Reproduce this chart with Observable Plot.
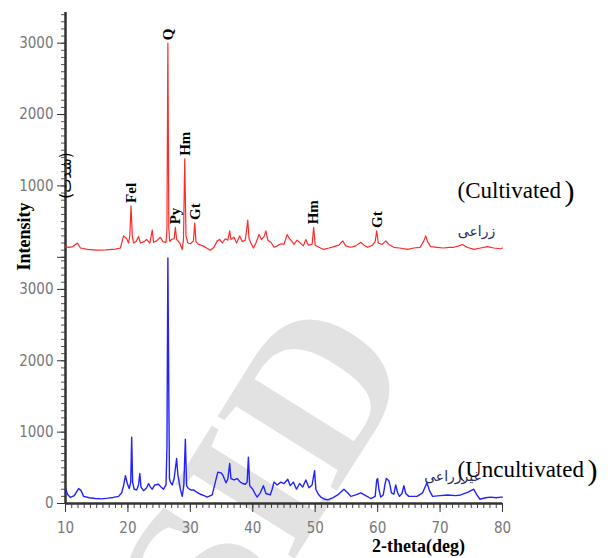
<!DOCTYPE html>
<html>
<head>
<meta charset="utf-8">
<script src="https://cdn.jsdelivr.net/npm/d3@7"></script>
<script src="https://cdn.jsdelivr.net/npm/@observablehq/plot@0.6"></script>
<style>
  html, body { margin: 0; padding: 0; background: #fff; }
  #chart svg { display: block; }
</style>
</head>
<body>
<div id="chart"></div>
<script>
// ---- data (2-theta in degrees, intensity in counts) ----
const cultivated = [
  [10.0,150],[10.5,140],[11.2,150],[11.9,200],[12.4,130],[13.5,110],[15,100],[16.5,105],[18,115],[18.8,130],
  [19.3,300],[19.8,260],[20.1,200],[20.3,300],[20.5,720],[20.7,300],[20.9,200],[21.3,220],[21.7,290],[22.0,200],
  [22.6,220],[23.0,250],[23.5,200],[23.9,380],[24.1,210],[24.6,230],[25.2,280],[25.6,220],[26.1,210],[26.25,400],
  [26.4,3000],[26.55,400],[26.7,220],[27.0,250],[27.4,260],[27.6,420],[27.8,250],[28.3,200],[28.7,110],[28.9,250],
  [29.1,1380],[29.3,300],[29.6,200],[30.0,190],[30.5,230],[30.7,480],[30.9,220],[31.3,180],[32.0,160],[32.6,130],
  [33.2,100],[33.8,140],[34.3,230],[34.7,250],[35.1,200],[35.6,260],[36.0,240],[36.3,370],[36.5,250],[37.0,280],
  [37.4,200],[37.9,300],[38.3,220],[38.8,240],[39.2,520],[39.4,260],[39.8,180],[40.1,130],[40.5,200],[41.0,320],
  [41.4,250],[41.8,290],[42.1,370],[42.4,240],[42.9,210],[43.4,140],[43.9,160],[44.5,190],[45.0,180],[45.5,320],
  [45.8,270],[46.2,230],[46.6,180],[47.1,240],[47.6,200],[48.1,160],[48.5,250],[48.9,170],[49.5,180],[49.75,420],
  [50.0,170],[50.6,140],[51.3,110],[52.2,130],[53.0,150],[53.8,170],[54.4,230],[54.9,160],[55.7,140],[56.5,160],
  [57.3,210],[57.8,170],[58.4,140],[59.2,170],[59.6,220],[59.85,370],[60.1,200],[60.7,180],[61.3,230],[61.8,180],
  [62.6,140],[63.5,130],[64.8,110],[65.8,130],[66.8,140],[67.4,230],[67.7,300],[68.0,220],[68.5,150],[69.5,140],
  [70.5,130],[71.5,140],[72.2,140],[73.0,160],[73.6,180],[74.3,140],[75.4,110],[76.5,130],[77.6,150],[78.6,130],
  [79.7,120],[80.0,130]
];

const uncultivated = [
  [10.0,220],[10.3,130],[10.8,85],[11.4,110],[12.1,210],[12.5,180],[12.9,100],[13.8,80],[14.8,70],[15.8,65],
  [16.8,75],[17.6,85],[18.5,100],[19.0,150],[19.3,250],[19.6,390],[19.9,280],[20.2,210],[20.45,300],[20.6,930],
  [20.75,300],[21.0,200],[21.4,190],[21.7,260],[21.9,420],[22.1,230],[22.5,180],[23.0,220],[23.3,280],[23.6,230],
  [23.9,200],[24.3,260],[24.9,270],[25.3,230],[25.7,200],[26.1,260],[26.25,800],[26.4,3440],[26.55,1500],[26.65,350],
  [26.8,300],[27.1,260],[27.4,350],[27.8,630],[28.0,400],[28.4,200],[28.7,100],[28.95,250],[29.2,900],[29.4,250],
  [29.7,210],[30.1,190],[30.5,190],[31.0,160],[31.6,130],[32.2,110],[32.7,90],[33.5,120],[34.0,300],[34.4,440],
  [34.9,430],[35.2,400],[35.7,290],[36.0,340],[36.3,560],[36.5,350],[37.0,330],[37.5,350],[38.0,300],[38.4,280],
  [38.8,270],[39.1,300],[39.3,650],[39.5,250],[40.0,200],[40.4,130],[40.7,90],[41.2,150],[41.7,250],[42.1,140],
  [42.8,120],[43.1,200],[43.4,300],[43.9,260],[44.5,300],[45.0,280],[45.6,340],[46.0,250],[46.5,300],[47.0,200],
  [47.5,280],[48.0,230],[48.5,330],[49.0,220],[49.5,260],[49.9,460],[50.1,200],[50.5,130],[50.9,90],[51.5,60],
  [52.0,50],[52.8,80],[53.6,120],[54.6,200],[55.2,150],[55.7,100],[56.5,120],[57.3,150],[58.1,110],[58.9,70],
  [59.6,100],[59.85,330],[60.0,350],[60.2,200],[60.5,90],[60.9,120],[61.2,280],[61.4,350],[61.8,320],[62.0,250],
  [62.2,150],[62.6,130],[62.9,260],[63.2,150],[63.5,100],[63.9,140],[64.2,250],[64.5,140],[65.0,100],[66.3,100],
  [67.2,150],[67.9,290],[68.3,180],[68.8,100],[70.0,110],[71.2,120],[72.5,110],[73.3,120],[74.5,160],[75.4,200],
  [75.9,120],[76.4,60],[77.3,80],[78.1,90],[79.0,80],[79.7,90],[80.0,90]
];

// mineral peak labels on the cultivated pattern
const peakNames = ["Fel", "Q", "Py", "Hm", "Gt", "Hm", "Gt"];
const peakTheta = [20.5, 26.4, 27.6, 29.1, 30.7, 49.75, 59.85];
const peakIntensity = [720, 3000, 420, 1380, 480, 420, 370];

const xTicks = [10, 20, 30, 40, 50, 60, 70, 80];
const yTicks = [0, 1000, 2000, 3000];

// ---- layout ----
const OFF = 3450;          // vertical offset of the upper (cultivated) pattern
const YMAX = 6880;
const serif = "'Liberation Serif', 'Times New Roman', serif";
const narrow = "'Liberation Sans Narrow', 'DejaVu Sans Condensed', 'Liberation Sans', sans-serif";

const peaks = peakNames.map((n, i) => ({name: n, theta: peakTheta[i], v: peakIntensity[i]}));

const majorY = [...yTicks, ...yTicks.map(t => t + OFF)];
const minorY = [...d3.range(0, OFF, 100), ...d3.range(OFF, YMAX, 100)];
const minorX = d3.range(10, 81, 1);

const chart = Plot.plot({
  width: 616,
  height: 558,
  marginLeft: 65,
  marginRight: 114,
  marginTop: 12,
  marginBottom: 55,
  style: {background: "#fff", overflow: "visible"},
  x: {domain: [10, 80], axis: null, label: null},
  y: {domain: [0, YMAX], axis: null, label: null},
  marks: [
    // watermark
    Plot.text(["SID"], {frameAnchor: "middle", dx: -20, dy: 220, rotate: -58,
      fontSize: 215, fontWeight: "bold", fontFamily: serif, fill: "#e2e2e2"}),

    // minor ticks
    Plot.axisX(minorX, {anchor: "bottom", tickSize: 5, text: null, label: null, stroke: "#444", strokeWidth: 1}),
    Plot.axisY(minorY, {anchor: "left", tickSize: 4, text: null, label: null, stroke: "#555", strokeWidth: 1}),

    // major ticks with labels
    Plot.axisX(xTicks, {anchor: "bottom", tickSize: 9, tickPadding: 10, stroke: "#333", label: null,
      fill: "#777", fontSize: 15, fontFamily: narrow}),
    Plot.axisY(majorY, {anchor: "left", tickSize: 8, tickPadding: 4, stroke: "#333", label: null,
      fill: "#777", fontSize: 15, fontFamily: narrow,
      tickFormat: d => d === OFF ? "" : String(d >= OFF ? d - OFF : d)}),

    // axis lines
    Plot.ruleX([10], {stroke: "#333", strokeWidth: 2.5}),
    Plot.ruleY([0], {stroke: "#333", strokeWidth: 2.5}),

    // patterns
    Plot.line(uncultivated, {x: d => d[0], y: d => d[1], stroke: "#2222ff", strokeWidth: 1.4}),
    Plot.line(cultivated, {x: d => d[0], y: d => d[1] + OFF, stroke: "#ff2a2a", strokeWidth: 1.2}),

    // peak labels
    Plot.text(peaks, {x: "theta", y: d => d.v + OFF, text: "name", rotate: -90,
      textAnchor: "start", lineAnchor: "middle", dy: -3, fontSize: 15, fontWeight: "bold",
      fontFamily: serif, fill: "#000"}),

    // panel annotations
    Plot.text(["(Cultivated"], {frameAnchor: "top-left", dx: 392, dy: 185, textAnchor: "start",
      lineAnchor: "bottom", fontSize: 23, fontFamily: serif, fill: "#000"}),
    Plot.text([")"], {frameAnchor: "top-left", dx: 499, dy: 188, textAnchor: "start",
      lineAnchor: "bottom", fontSize: 30, fontFamily: serif, fill: "#000"}),
    Plot.text(["زراعی"], {frameAnchor: "top-left", dx: 411, dy: 223, textAnchor: "middle",
      lineAnchor: "bottom", fontSize: 14, fontFamily: "'DejaVu Sans', sans-serif", fill: "#2b2b5c"}),

    Plot.text(["(Uncultivated"], {frameAnchor: "top-left", dx: 392, dy: 464, textAnchor: "start",
      lineAnchor: "bottom", fontSize: 23, fontFamily: serif, fill: "#000"}),
    Plot.text([")"], {frameAnchor: "top-left", dx: 522, dy: 467, textAnchor: "start",
      lineAnchor: "bottom", fontSize: 30, fontFamily: serif, fill: "#000"}),
    Plot.text(["غیرزراعی"], {frameAnchor: "top-left", dx: 387, dy: 468, textAnchor: "middle",
      lineAnchor: "bottom", fontSize: 14, fontFamily: "'DejaVu Sans', sans-serif", fill: "#2b2b5c"}),

    // axis titles
    Plot.text(["Intensity"], {frameAnchor: "top-left", dx: -41, dy: 224, rotate: -90,
      textAnchor: "middle", lineAnchor: "middle", fontSize: 18, fontWeight: "bold",
      fontFamily: serif, fill: "#000"}),
    Plot.text(["(شدت)"], {frameAnchor: "top-left", dx: 1, dy: 163, rotate: -90,
      textAnchor: "middle", lineAnchor: "middle", fontSize: 15,
      fontFamily: "'DejaVu Sans', sans-serif", fill: "#000"}),
    Plot.text(["2-theta(deg)"], {frameAnchor: "top-left", dx: 353, dy: 539, textAnchor: "middle",
      lineAnchor: "bottom", fontSize: 18, fontWeight: "bold", fontFamily: serif, fill: "#000"})
  ]
});

document.getElementById("chart").appendChild(chart);
</script>
</body>
</html>
